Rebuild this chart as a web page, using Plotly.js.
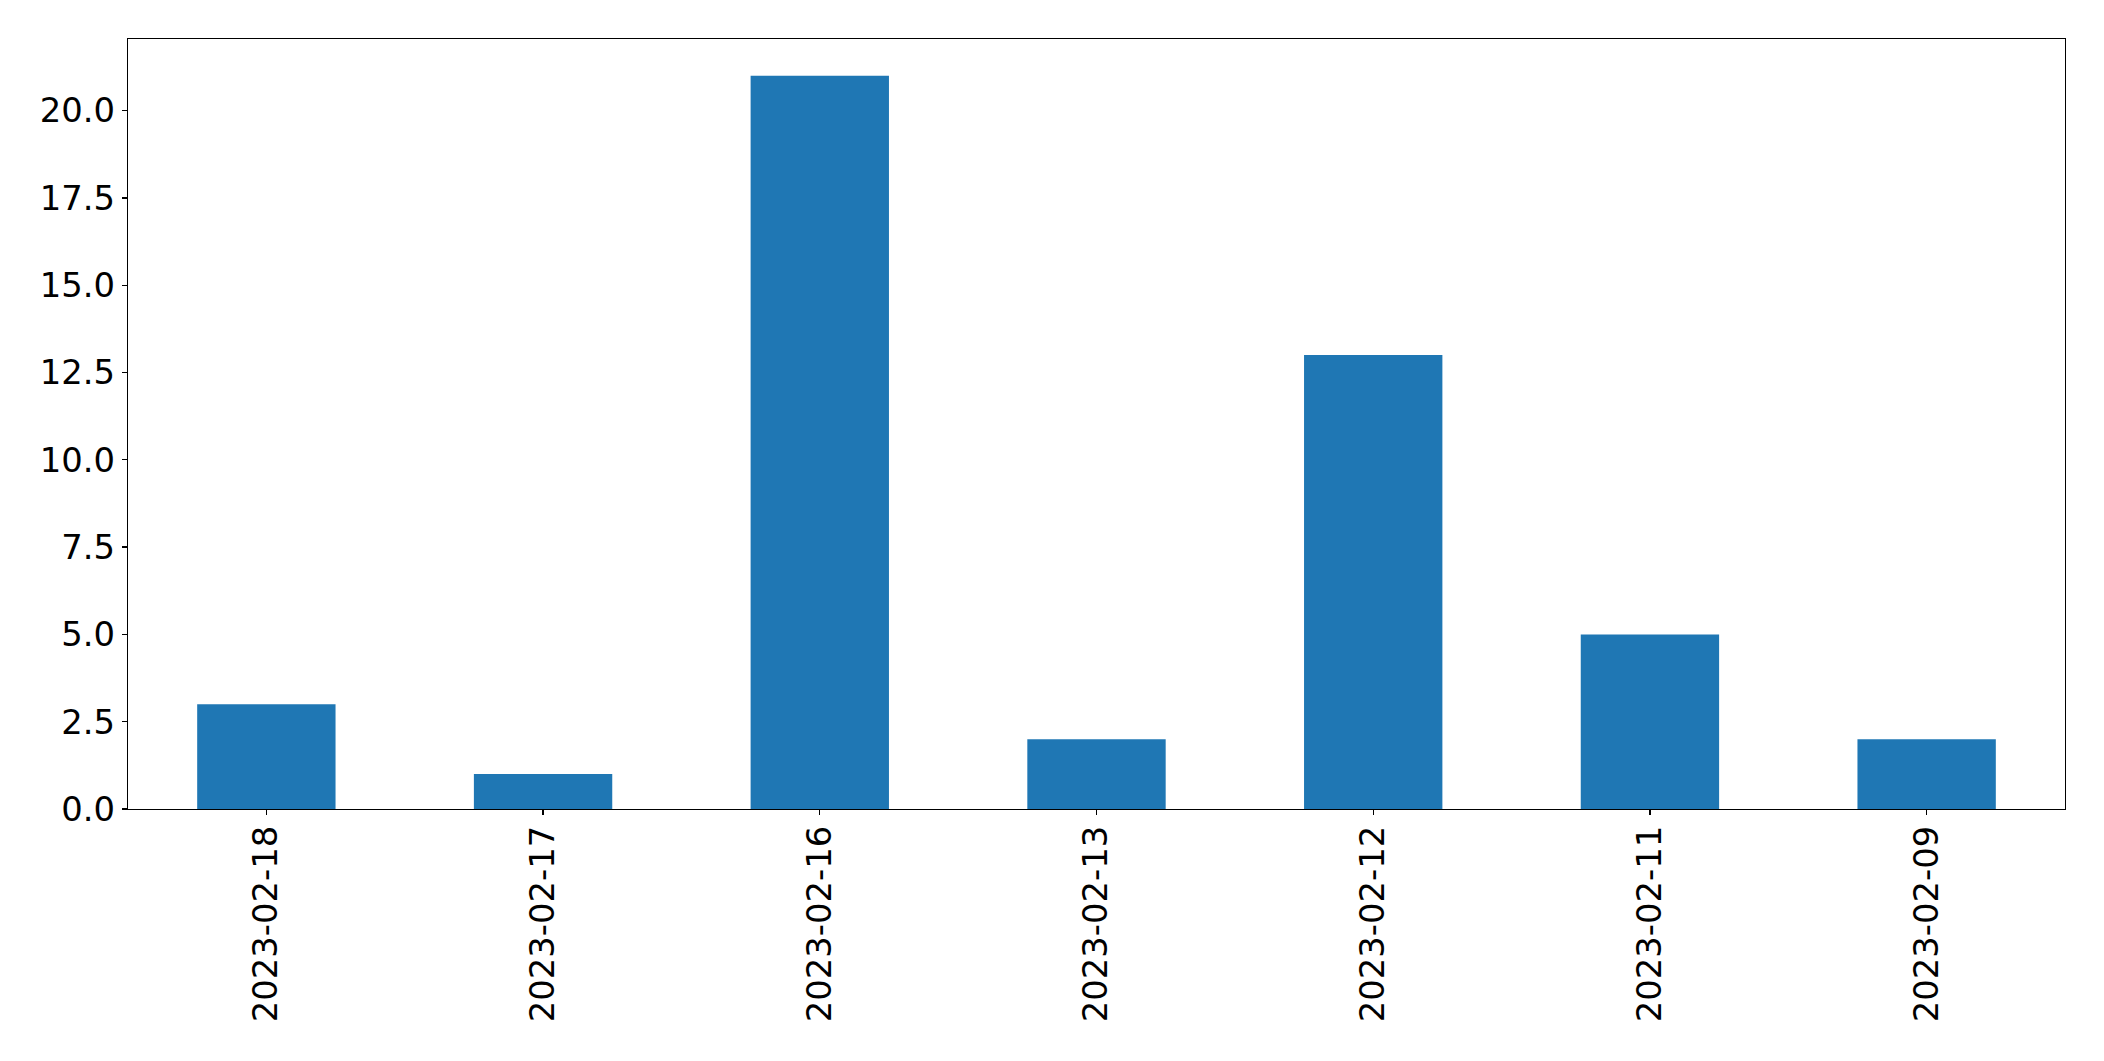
<!DOCTYPE html>
<html>
<head>
<meta charset="utf-8">
<script src="https://cdn.plot.ly/plotly-3.0.1.min.js"></script>
<style>html,body{margin:0;padding:0;background:#fff;}#chart{width:2104px;height:1061px;}</style>
</head>
<body>
<div id="chart"></div>
<script>
const dates = ["2023-02-18","2023-02-17","2023-02-16","2023-02-13","2023-02-12","2023-02-11","2023-02-09"];
const counts = [3, 1, 21, 2, 13, 5, 2];

const trace = {
  type: "bar",
  x: dates,
  y: counts,
  marker: {color: "#1f77b4", line: {width: 0}},
  hoverinfo: "x+y"
};

const font = {family: "DejaVu Sans, sans-serif", size: 33.8, color: "#000"};

const layout = {
  width: 2104,
  height: 1061,
  margin: {l: 127.5, r: 38.7, t: 39.3, b: 251.7, pad: 0},
  paper_bgcolor: "#fff",
  plot_bgcolor: "#fff",
  bargap: 0.5,
  showlegend: false,
  font: font,
  xaxis: {
    type: "category",
    range: [-0.5, 6.5],
    tickangle: -90,
    ticks: "outside",
    ticklen: 5,
    tickwidth: 1.3,
    tickcolor: "#000",
    ticklabelstandoff: -3,
    showline: true,
    mirror: true,
    linecolor: "#000",
    linewidth: 1.3,
    showgrid: false,
    zeroline: false,
    tickfont: font,
    automargin: false
  },
  yaxis: {
    range: [0, 22.05],
    tick0: 0,
    dtick: 2.5,
    tickformat: ".1f",
    ticks: "outside",
    ticklen: 5,
    tickwidth: 1.3,
    tickcolor: "#000",
    showline: true,
    mirror: true,
    linecolor: "#000",
    linewidth: 1.3,
    showgrid: false,
    zeroline: false,
    tickfont: font,
    automargin: false
  }
};

Plotly.newPlot("chart", [trace], layout, {displayModeBar: false, staticPlot: true});
</script>
</body>
</html>
